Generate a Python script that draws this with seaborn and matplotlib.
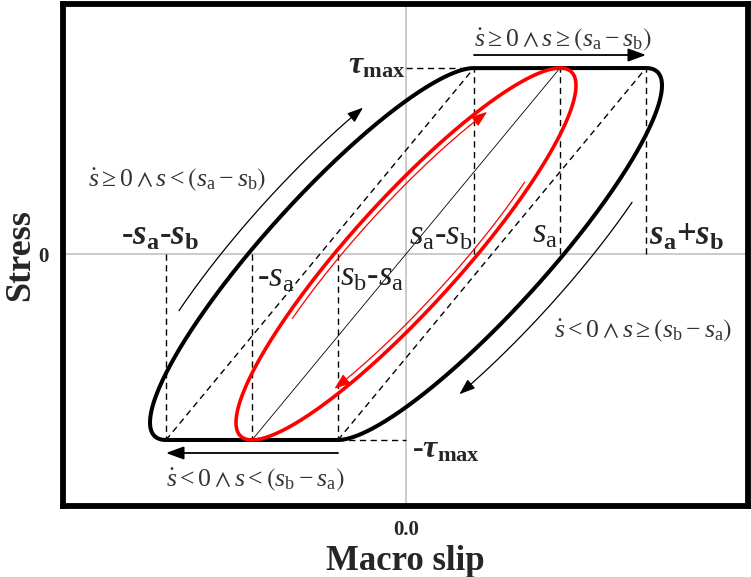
import numpy as np
import matplotlib
matplotlib.use("Agg")
import matplotlib.pyplot as plt
import seaborn as sns

# Bond-slip model parameters (slip in model units, stress scaled by tau_max)
s_a = 1.54
s_b = 0.86
tau_max = 1.0
half_width = 0.72          # slip of the reloading ellipse at zero stress

x_ticks = [0.0]
x_tick_labels = ["0.0"]
y_ticks = [0.0]
y_tick_labels = ["0"]

x_limits = [-3.435, 3.42]
y_limits = [-1.355, 1.347]

sns.set_theme(style="white")
plt.rcParams.update({
    "font.family": ["Liberation Serif", "DejaVu Serif"],
    "mathtext.fontset": "custom",
    "mathtext.rm": "Liberation Serif",
    "mathtext.it": "Liberation Serif:italic",
    "mathtext.bf": "Liberation Serif:bold",
    "mathtext.fallback": "stix",
})
if "mathtext.bfit" in plt.rcParams:
    plt.rcParams["mathtext.bfit"] = "Liberation Serif:italic:bold"
    BFIT = r"\mathbfit"
else:
    BFIT = r"\boldsymbol"


def branch(t, shift=0.0, a0=half_width):
    """Elliptic stress-slip branch: horizontal tangents at +/- tau_max."""
    return shift + a0 * np.cos(t) + s_a * np.sin(t), tau_max * np.sin(t)


fig = plt.figure(figsize=(7.51, 5.77), dpi=100)
ax = fig.add_axes([62.5 / 751, 1 - 506 / 577, (748 - 62.5) / 751, (506 - 3.5) / 577])
ax.set_xlim(x_limits)
ax.set_ylim(y_limits)

# zero reference lines
ax.axhline(0, color="#bdbdbd", lw=1.1, zorder=1)
ax.axvline(0, color="#bdbdbd", lw=1.1, zorder=1)

# outer envelope: loading branch, upper plateau, unloading branch, lower plateau
t_up = np.linspace(-np.pi / 2, np.pi / 2, 300)
t_dn = np.linspace(np.pi / 2, 3 * np.pi / 2, 300)
xr, yr = branch(t_up, s_b)
xl, yl = branch(t_dn, -s_b)
outer_x = np.concatenate([xr, [s_a - s_b], xl, [s_b - s_a]])
outer_y = np.concatenate([yr, [tau_max], yl, [-tau_max]])
sns.lineplot(x=outer_x, y=outer_y, sort=False, estimator=None, color="black",
             lw=2.9, ax=ax, zorder=4)

# inner (red) cycle
t_full = np.linspace(0, 2 * np.pi, 600)
ex, ey = branch(t_full)
sns.lineplot(x=ex, y=ey, sort=False, estimator=None, color="#ff0000",
             lw=2.6, ax=ax, zorder=5)

# thin secant through the inner cycle
ax.plot([-s_a, s_a], [-tau_max, tau_max], color="black", lw=0.6, zorder=3)

dash = (0, (4.5, 3.2))
ax.plot([-s_a - s_b, s_a - s_b], [-tau_max, tau_max], color="black", lw=1.0, ls=dash, zorder=3)
ax.plot([s_b - s_a, s_a + s_b], [-tau_max, tau_max], color="black", lw=1.0, ls=dash, zorder=3)
for xv in [s_a - s_b, s_a, s_a + s_b]:
    ax.plot([xv, xv], [0, tau_max], color="black", lw=1.0, ls=dash, zorder=3)
for xv in [-s_a - s_b, -s_a, s_b - s_a]:
    ax.plot([xv, xv], [0, -tau_max], color="black", lw=1.0, ls=dash, zorder=3)
ax.plot([0, s_a - s_b], [tau_max, tau_max], color="black", lw=1.0, ls=dash, zorder=3)
ax.plot([s_b - s_a, 0], [-tau_max, -tau_max], color="black", lw=1.0, ls=dash, zorder=3)

# straight direction arrows along the plateaus
head = dict(arrowstyle="-|>,head_length=0.6,head_width=0.22", mutation_scale=18,
            shrinkA=0, shrinkB=0)
ax.annotate("", xy=(s_a + s_b, 1.07 * tau_max), xytext=(s_a - s_b, 1.07 * tau_max),
            arrowprops=dict(color="black", lw=1.3, **head))
ax.annotate("", xy=(-s_a - s_b, -1.07 * tau_max), xytext=(s_b - s_a, -1.07 * tau_max),
            arrowprops=dict(color="black", lw=1.3, **head))


def offset_curve(x, y, dist_px):
    pts = ax.transData.transform(np.column_stack([x, y]))
    d = np.gradient(pts, axis=0)
    n = np.column_stack([-d[:, 1], d[:, 0]])
    n /= np.linalg.norm(n, axis=1)[:, None]
    return ax.transData.inverted().transform(pts + dist_px * n)


def curved_arrow(t0, t1, shift, dist_px, color, lw, scale):
    t = np.linspace(t0, t1, 200)
    bx, by = branch(t, shift)
    c = offset_curve(bx, by, dist_px)
    ax.plot(c[:-6, 0], c[:-6, 1], color=color, lw=lw, zorder=6, solid_capstyle="butt")
    ax.annotate("", xy=(c[-1, 0], c[-1, 1]), xytext=(c[-8, 0], c[-8, 1]),
                arrowprops=dict(arrowstyle="-|>,head_length=0.6,head_width=0.22",
                                mutation_scale=scale, color=color, lw=lw,
                                shrinkA=0, shrinkB=0), zorder=6)


# direction arrows along the curved branches (stress levels where they start/end)
curved_arrow(np.pi + np.arcsin(0.37), np.pi - np.arcsin(0.70), -s_b, 21, "black", 0.9, 16)
curved_arrow(np.arcsin(0.35), -np.arcsin(0.66), s_b, 23, "black", 0.9, 16)
curved_arrow(np.pi + np.arcsin(0.33), np.pi - np.arcsin(0.79), 0.0, -6, "#ff0000", 0.9, 16)
curved_arrow(np.arcsin(0.37), -np.arcsin(0.75), 0.0, -6, "#ff0000", 0.9, 16)

# slip markers
big = 25
ax.text(-s_a - s_b - 0.06, 0.005, r"-$" + BFIT + r"{s}_{\mathbf{a}}$-$" + BFIT + r"{s}_{\mathbf{b}}$",
        ha="center", va="bottom", fontsize=big, fontweight="bold")
ax.text(s_a - s_b - 0.01, 0.005, r"$s_{\mathrm{a}}$-$s_{\mathrm{b}}$", ha="right", va="bottom",
        fontsize=big, color="#222222")
ax.text(s_a - 0.02, 0.015, r"$s_{\mathrm{a}}$", ha="right", va="bottom", fontsize=big,
        color="#222222")
ax.text(s_a + s_b + 0.03, 0.005, r"$" + BFIT + r"{s}_{\mathbf{a}}$+$" + BFIT + r"{s}_{\mathbf{b}}$",
        ha="left", va="bottom", fontsize=big, fontweight="bold")
ax.text(-s_a + 0.05, -0.045, r"-$s_{\mathrm{a}}$", ha="left", va="top", fontsize=big,
        color="#222222")
ax.text(s_b - s_a + 0.02, -0.035, r"$s_{\mathrm{b}}$-$s_{\mathrm{a}}$", ha="left", va="top",
        fontsize=big, color="#222222")

ax.text(-0.01, 1.01 * tau_max, r"$" + BFIT + r"{\tau}_{\mathbf{max}}$", ha="right",
        va="center", fontsize=23)
ax.text(0.06, -1.055 * tau_max, r"-$" + BFIT + r"{\tau}_{\mathbf{max}}$", ha="left",
        va="center", fontsize=23, fontweight="bold")

# branch conditions
cond_kw = dict(ha="center", va="center", fontsize=18.5, color="#333333")
ax.text(1.57, 1.15, r"$\dot{s}\geq 0\wedge s\geq\left(s_{\mathrm{a}}-s_{\mathrm{b}}\right)$", **cond_kw)
ax.text(-2.29, 0.40, r"$\dot{s}\geq 0\wedge s<\left(s_{\mathrm{a}}-s_{\mathrm{b}}\right)$", **cond_kw)
ax.text(2.37, -0.414, r"$\dot{s}<0\wedge s\geq\left(s_{\mathrm{b}}-s_{\mathrm{a}}\right)$", **cond_kw)
ax.text(-1.51, -1.215, r"$\dot{s}<0\wedge s<\left(s_{\mathrm{b}}-s_{\mathrm{a}}\right)$", **cond_kw)

# axes styling
ax.set_xticks(x_ticks)
ax.set_xticklabels(x_tick_labels)
ax.set_yticks(y_ticks)
ax.set_yticklabels(y_tick_labels)
ax.tick_params(length=0, labelsize=15, pad=10)
for lab in ax.get_xticklabels() + ax.get_yticklabels():
    lab.set_fontweight("bold")
for sp in ax.spines.values():
    sp.set_visible(True)
    sp.set_color("black")
    sp.set_linewidth(4.2)
ax.grid(False)
ax.set_xlabel("Macro slip", fontsize=25, fontweight="bold", labelpad=4)
ax.set_ylabel("Stress", fontsize=26, fontweight="bold", labelpad=1)

fig.savefig("out.png", dpi=100)
